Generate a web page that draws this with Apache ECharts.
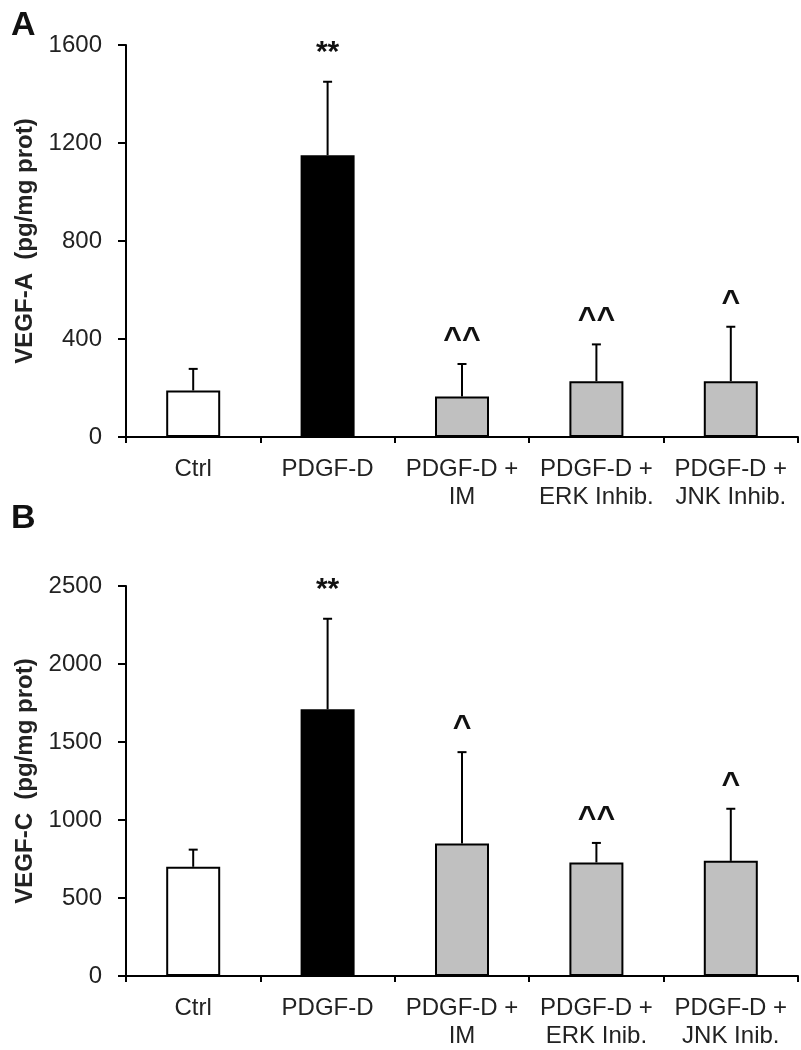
<!DOCTYPE html>
<html>
<head>
<meta charset="utf-8">
<script src="https://cdn.jsdelivr.net/npm/echarts@6/dist/echarts.min.js"></script>
<style>
html,body{margin:0;padding:0;background:#fff;}
#chart{width:801px;height:1050px;}
</style>
</head>
<body>
<div id="chart"></div>
<script>
// ---- data ----
const categoriesA = ['Ctrl', 'PDGF-D', 'PDGF-D +\nIM', 'PDGF-D +\nERK Inhib.', 'PDGF-D +\nJNK Inhib.'];
const categoriesB = ['Ctrl', 'PDGF-D', 'PDGF-D +\nIM', 'PDGF-D +\nERK Inib.', 'PDGF-D +\nJNK Inib.'];
const vegfA = [190, 1150, 165, 228, 228];
const vegfAErr = [88, 300, 133, 150, 222];
const vegfC = [700, 1710, 850, 728, 738];
const vegfCErr = [110, 580, 585, 125, 334];
const sigA = ['', '**', '^^', '^^', '^'];
const sigB = ['', '**', '^', '^^', '^'];
const yTicksA = {min: 0, max: 1600, interval: 400};
const yTicksB = {min: 0, max: 2500, interval: 500};

// ---- styles ----
const barFills = ['#ffffff', '#000000', '#c0c0c0', '#c0c0c0', '#c0c0c0'];
const FONT = 'Liberation Sans, Arial, sans-serif';
const TXT = '#222';

const chart = echarts.init(document.getElementById('chart'));

function barData(vals) {
  return vals.map((v, i) => ({value: v, itemStyle: {color: barFills[i]}}));
}
function errData(vals, errs) {
  return vals.map((v, i) => [i, v, errs[i]]);
}
function errRender(sigs) {
  return function (params, api) {
    const i = api.value(0);
    const v = api.value(1);
    const e = api.value(2);
    const base = api.coord([i, v]);
    const top = api.coord([i, v + e]);
    const half = 4.5;
    const children = [
      {type: 'line', shape: {x1: base[0], y1: base[1], x2: top[0], y2: top[1]}, style: {stroke: '#000', lineWidth: 2}},
      {type: 'line', shape: {x1: top[0] - half, y1: top[1], x2: top[0] + half, y2: top[1]}, style: {stroke: '#000', lineWidth: 2}}
    ];
    const s = sigs[params.dataIndex];
    if (s) {
      const caret = s.charAt(0) === '^';
      children.push({type: 'text', x: top[0], y: top[1] - (caret ? 24 : 29),
        style: {text: s, fill: '#111', font: 'bold ' + (caret ? 32 : 30) + 'px ' + FONT,
                align: 'center', verticalAlign: 'middle'}});
    }
    return {type: 'group', children: children};
  };
}

function xAxis(idx, cats) {
  return {
    type: 'category', gridIndex: idx, data: cats, boundaryGap: true,
    axisLine: {lineStyle: {color: '#000', width: 2}},
    axisTick: {show: true, length: 6, lineStyle: {color: '#000', width: 2}},
    axisLabel: {interval: 0, color: TXT, fontSize: 24, fontFamily: FONT, lineHeight: 28, margin: 18}
  };
}
function yAxis(idx, t, name) {
  return {
    type: 'value', gridIndex: idx, min: t.min, max: t.max, interval: t.interval,
    name: name, nameLocation: 'middle', nameGap: 85,
    nameTextStyle: {color: TXT, fontSize: 24, fontWeight: 'bold', fontFamily: FONT},
    axisLine: {show: true, lineStyle: {color: '#000', width: 2}},
    axisTick: {show: true, length: 8, lineStyle: {color: '#000', width: 2}},
    splitLine: {show: false},
    axisLabel: {color: TXT, fontSize: 24, fontFamily: FONT, margin: 24, formatter: v => String(v)}
  };
}

chart.setOption({
  animation: false,
  backgroundColor: '#fff',
  grid: [
    {left: 126, right: 3, top: 45, height: 392},
    {left: 126, right: 3, top: 586, height: 391}
  ],
  xAxis: [xAxis(0, categoriesA), xAxis(1, categoriesB)],
  yAxis: [yAxis(0, yTicksA, 'VEGF-A  (pg/mg prot)'), yAxis(1, yTicksB, 'VEGF-C  (pg/mg prot)')],
  graphic: [
    {type: 'text', left: 11, top: 9, style: {text: 'A', font: 'bold 34px ' + FONT, fill: '#111'}},
    {type: 'text', left: 11, top: 502, style: {text: 'B', font: 'bold 34px ' + FONT, fill: '#111'}}
  ],
  series: [
    {type: 'bar', xAxisIndex: 0, yAxisIndex: 0, data: barData(vegfA), barWidth: 54,
     itemStyle: {borderColor: '#000', borderWidth: 2}, z: 2},
    {type: 'custom', xAxisIndex: 0, yAxisIndex: 0, data: errData(vegfA, vegfAErr),
     encode: {x: 0, y: 1}, renderItem: errRender(sigA), z: 3},
    {type: 'bar', xAxisIndex: 1, yAxisIndex: 1, data: barData(vegfC), barWidth: 54,
     itemStyle: {borderColor: '#000', borderWidth: 2}, z: 2},
    {type: 'custom', xAxisIndex: 1, yAxisIndex: 1, data: errData(vegfC, vegfCErr),
     encode: {x: 0, y: 1}, renderItem: errRender(sigB), z: 3}
  ]
});
</script>
</body>
</html>
